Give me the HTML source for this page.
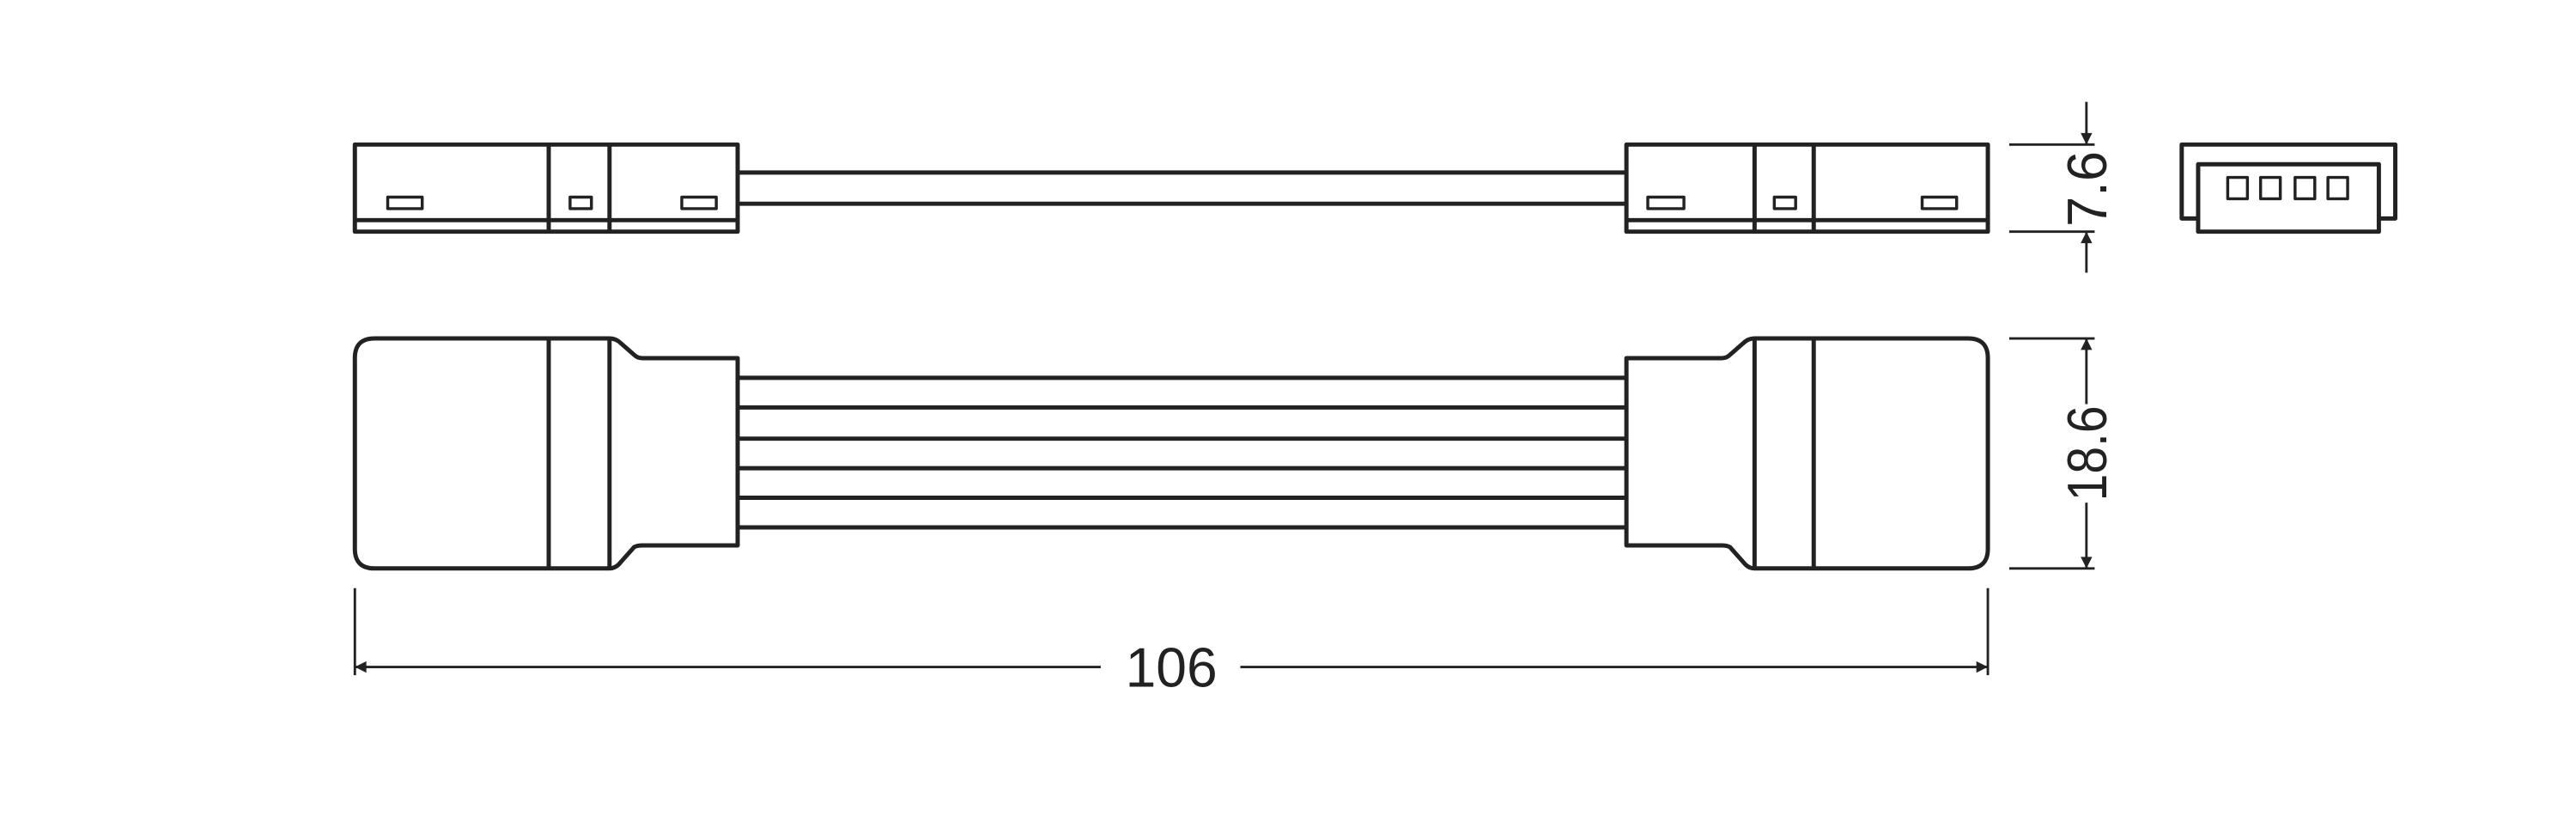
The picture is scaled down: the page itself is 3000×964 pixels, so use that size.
<!DOCTYPE html>
<html><head><meta charset="utf-8"><style>html,body{margin:0;padding:0;background:#fff}svg{display:block}</style></head>
<body>
<svg width="3000" height="964" viewBox="0 0 1568 504" preserveAspectRatio="none" xmlns="http://www.w3.org/2000/svg">
<defs>
<marker id="a" viewBox="0 0 10 10" refX="10" refY="5" markerWidth="12" markerHeight="7" orient="auto-start-reverse" markerUnits="userSpaceOnUse"><path d="M0 0L10 5L0 10z" fill="#222"/></marker>
</defs>
<g fill="none" stroke="#222" stroke-width="2.6" stroke-linejoin="round">
<rect x="216" y="88" width="233" height="53"/>
<line x1="216" y1="134" x2="449" y2="134"/>
<line x1="334" y1="88" x2="334" y2="141"/>
<line x1="371" y1="88" x2="371" y2="141"/>
<rect x="236" y="120" width="21" height="7" stroke-width="1.8"/>
<rect x="347" y="120" width="13" height="7" stroke-width="1.8"/>
<rect x="415" y="120" width="21" height="7" stroke-width="1.8"/>
<line x1="449" y1="105" x2="990" y2="105"/>
<line x1="449" y1="124" x2="990" y2="124"/>
<rect x="990" y="88" width="220" height="53"/>
<line x1="990" y1="134" x2="1210" y2="134"/>
<line x1="1068" y1="88" x2="1068" y2="141"/>
<line x1="1104" y1="88" x2="1104" y2="141"/>
<rect x="1003" y="120" width="22" height="7" stroke-width="1.8"/>
<rect x="1080" y="120" width="13" height="7" stroke-width="1.8"/>
<rect x="1170" y="120" width="21" height="7" stroke-width="1.8"/>
<path d="M1338 133L1328 133L1328 88L1458 88L1458 133L1448 133"/>
<rect x="1338" y="100" width="110" height="41"/>
<rect x="1356" y="108" width="12" height="13" stroke-width="1.8"/>
<rect x="1376" y="108" width="12" height="13" stroke-width="1.8"/>
<rect x="1397" y="108" width="12" height="13" stroke-width="1.8"/>
<rect x="1417" y="108" width="12" height="13" stroke-width="1.8"/>
<path d="M371 206L228 206Q216 206 216 218L216 334Q216 346 228 346L371 346Q375 346 378 342L386 333Q388 332 391 332L449 332L449 218L391 218Q388 218 386 216L378 209Q375 206 371 206Z"/>
<line x1="334" y1="206" x2="334" y2="346"/>
<line x1="371" y1="206" x2="371" y2="346"/>
<line x1="449" y1="230" x2="990" y2="230"/>
<line x1="449" y1="248" x2="990" y2="248"/>
<line x1="449" y1="267" x2="990" y2="267"/>
<line x1="449" y1="285" x2="990" y2="285"/>
<line x1="449" y1="303" x2="990" y2="303"/>
<line x1="449" y1="321" x2="990" y2="321"/>
<path d="M1068 206L1198 206Q1210 206 1210 218L1210 334Q1210 346 1198 346L1068 346Q1064 346 1061 342L1053 333Q1051 332 1048 332L990 332L990 218L1048 218Q1051 218 1053 216L1061 209Q1064 206 1068 206Z"/>
<line x1="1068" y1="206" x2="1068" y2="346"/>
<line x1="1104" y1="206" x2="1104" y2="346"/>
</g>
<g fill="none" stroke="#222" stroke-width="1.5">
<line x1="1223" y1="88" x2="1275" y2="88"/>
<line x1="1223" y1="141" x2="1275" y2="141"/>
<line x1="1270" y1="62" x2="1270" y2="88" marker-end="url(#a)"/>
<line x1="1270" y1="166" x2="1270" y2="141" marker-end="url(#a)"/>
<line x1="1223" y1="206" x2="1275" y2="206"/>
<line x1="1223" y1="346" x2="1275" y2="346"/>
<line x1="1270" y1="246" x2="1270" y2="206" marker-end="url(#a)"/>
<line x1="1270" y1="306" x2="1270" y2="346" marker-end="url(#a)"/>
<line x1="216" y1="358" x2="216" y2="411"/>
<line x1="1210" y1="358" x2="1210" y2="411"/>
<line x1="670" y1="406" x2="216" y2="406" marker-end="url(#a)"/>
<line x1="755" y1="406" x2="1210" y2="406" marker-end="url(#a)"/>
</g>
<g font-family="'Liberation Sans', sans-serif" font-size="34" fill="#222" text-anchor="middle">
<text x="713" y="418" textLength="56" lengthAdjust="spacingAndGlyphs">106</text>
<text transform="translate(1282 115) rotate(-90)" x="0" y="0" textLength="46" lengthAdjust="spacingAndGlyphs">7.6</text>
<text transform="translate(1282 276) rotate(-90)" x="0" y="0" textLength="58" lengthAdjust="spacingAndGlyphs">18.6</text>
</g>
</svg>
</body></html>
